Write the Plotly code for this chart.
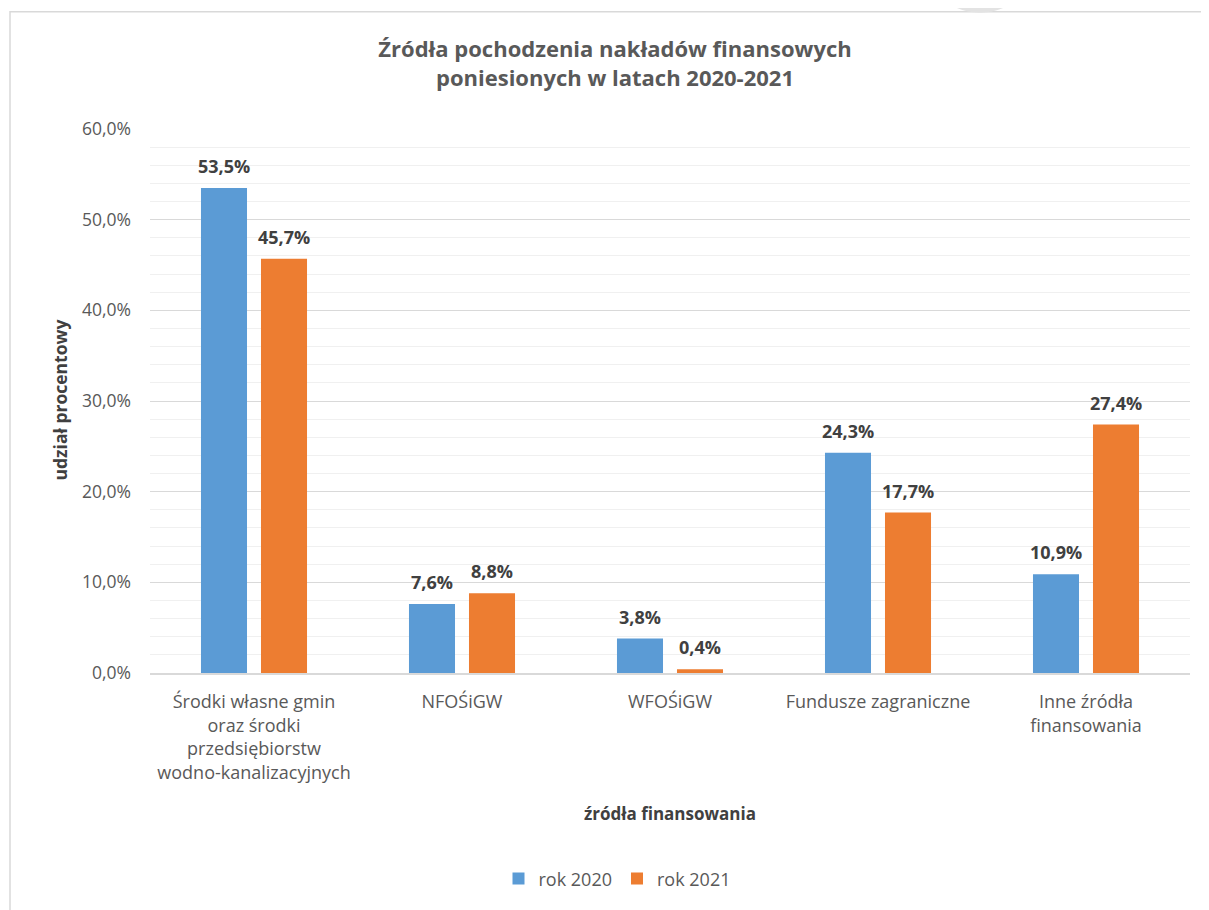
import plotly.graph_objects as go

categories = [
    "Środki własne gmin<br>oraz środki<br>przedsiębiorstw<br>wodno-kanalizacyjnych",
    "NFOŚiGW",
    "WFOŚiGW",
    "Fundusze zagraniczne",
    "Inne źródła<br>finansowania",
]
rok_2020 = [53.5, 7.6, 3.8, 24.3, 10.9]
rok_2021 = [45.7, 8.8, 0.4, 17.7, 27.4]
series_names = ["rok 2020", "rok 2021"]
colors = ["#5B9BD5", "#ED7D31"]
y_ticks = [0, 10, 20, 30, 40, 50, 60]
y_ticktext = [f"{v:.1f}%".replace(".", ",") for v in y_ticks]

FONT = "'Open Sans', 'Noto Sans', sans-serif"

# the page body adds an 8px offset; figure is sized to compensate
OFF = 8
W, H = 1209 - OFF, 910 - OFF
PL, PT = 150, 129          # plot-area left / top on screen
PW, PH = 1040, 547         # plot-area size


def px_x(sx):
    return (sx - PL) / PW


def px_y(sy):
    return (PT + PH - sy) / PH


fig = go.Figure()
for name, vals, col in zip(series_names, [rok_2020, rok_2021], colors):
    fig.add_trace(go.Bar(
        x=categories, y=vals, name=name,
        marker=dict(color=col, line=dict(width=0)),
        hoverinfo="skip",
    ))

annotations = []
for shift, vals in zip([-30, 30], [rok_2020, rok_2021]):
    for c, v in zip(categories, vals):
        annotations.append(dict(
            x=c, y=v, xref="x", yref="y",
            text=f"<b>{v:.1f}%</b>".replace(".", ","),
            showarrow=False, xshift=shift, yshift=22,
            yanchor="middle",
            font=dict(family=FONT, size=18, color="#404040"),
        ))

annotations.append(dict(
    text="<b>źródła finansowania</b>", xref="paper", yref="paper",
    x=px_x(670), y=px_y(817), showarrow=False, yanchor="middle",
    font=dict(family=FONT, size=17, color="#404040"),
))
annotations.append(dict(
    text="<b>udział procentowy</b>", xref="paper", yref="paper",
    x=px_x(60), y=px_y(402), showarrow=False, textangle=-90,
    xanchor="center", yanchor="middle",
    font=dict(family=FONT, size=17.5, color="#404040"),
))

fig.update_layout(
    width=W, height=H,
    margin=dict(l=PL - OFF, r=W - (PL - OFF) - PW, t=PT - OFF,
                b=H - (PT - OFF) - PH, pad=0),
    paper_bgcolor="white", plot_bgcolor="white",
    separators=", ",
    barmode="group", bargap=0.423, bargroupgap=0.233,
    title=dict(
        text="<b>Źródła pochodzenia nakładów finansowych<br>poniesionych w latach 2020-2021</b>",
        x=(615 - OFF) / W, xanchor="center",
        y=1 - (57 - OFF) / H, yanchor="middle",
        xref="container", yref="container",
        font=dict(family=FONT, size=22, color="#595959"),
    ),
    font=dict(family=FONT, color="#595959"),
    legend=dict(
        orientation="h", x=px_x(617), xanchor="center",
        y=px_y(883), yanchor="middle",
        font=dict(family=FONT, size=18, color="#595959"),
        itemwidth=30, traceorder="normal",
    ),
    annotations=annotations,
    shapes=[
        dict(type="rect", xref="paper", yref="paper",
             x0=px_x(10), x1=px_x(1300), y0=px_y(960), y1=px_y(11),
             line=dict(color="#d9d9d9", width=1.5), layer="below"),
        dict(type="circle", xref="paper", yref="paper",
             x0=px_x(980 - 53.5), x1=px_x(980 + 53.5),
             y0=px_y(-45 + 53.5), y1=px_y(-45 - 53.5),
             line=dict(color="#e3e3e3", width=7), layer="below"),
    ],
)

fig.update_yaxes(
    range=[0, 60], tickvals=y_ticks, ticktext=y_ticktext,
    gridcolor="#d9d9d9", gridwidth=1.3, zeroline=False,
    showline=False, ticks="", ticklabelstandoff=18,
    tickfont=dict(family=FONT, size=17.5, color="#595959"),
    minor=dict(dtick=2, showgrid=True, gridcolor="#f0f0f0", gridwidth=1.3),
)
fig.update_xaxes(
    showline=True, linecolor="#d9d9d9", linewidth=1.5,
    ticks="", ticklabelstandoff=12,
    tickfont=dict(family=FONT, size=18, color="#595959"),
    tickangle=0,
)

fig.write_html("out.html")
